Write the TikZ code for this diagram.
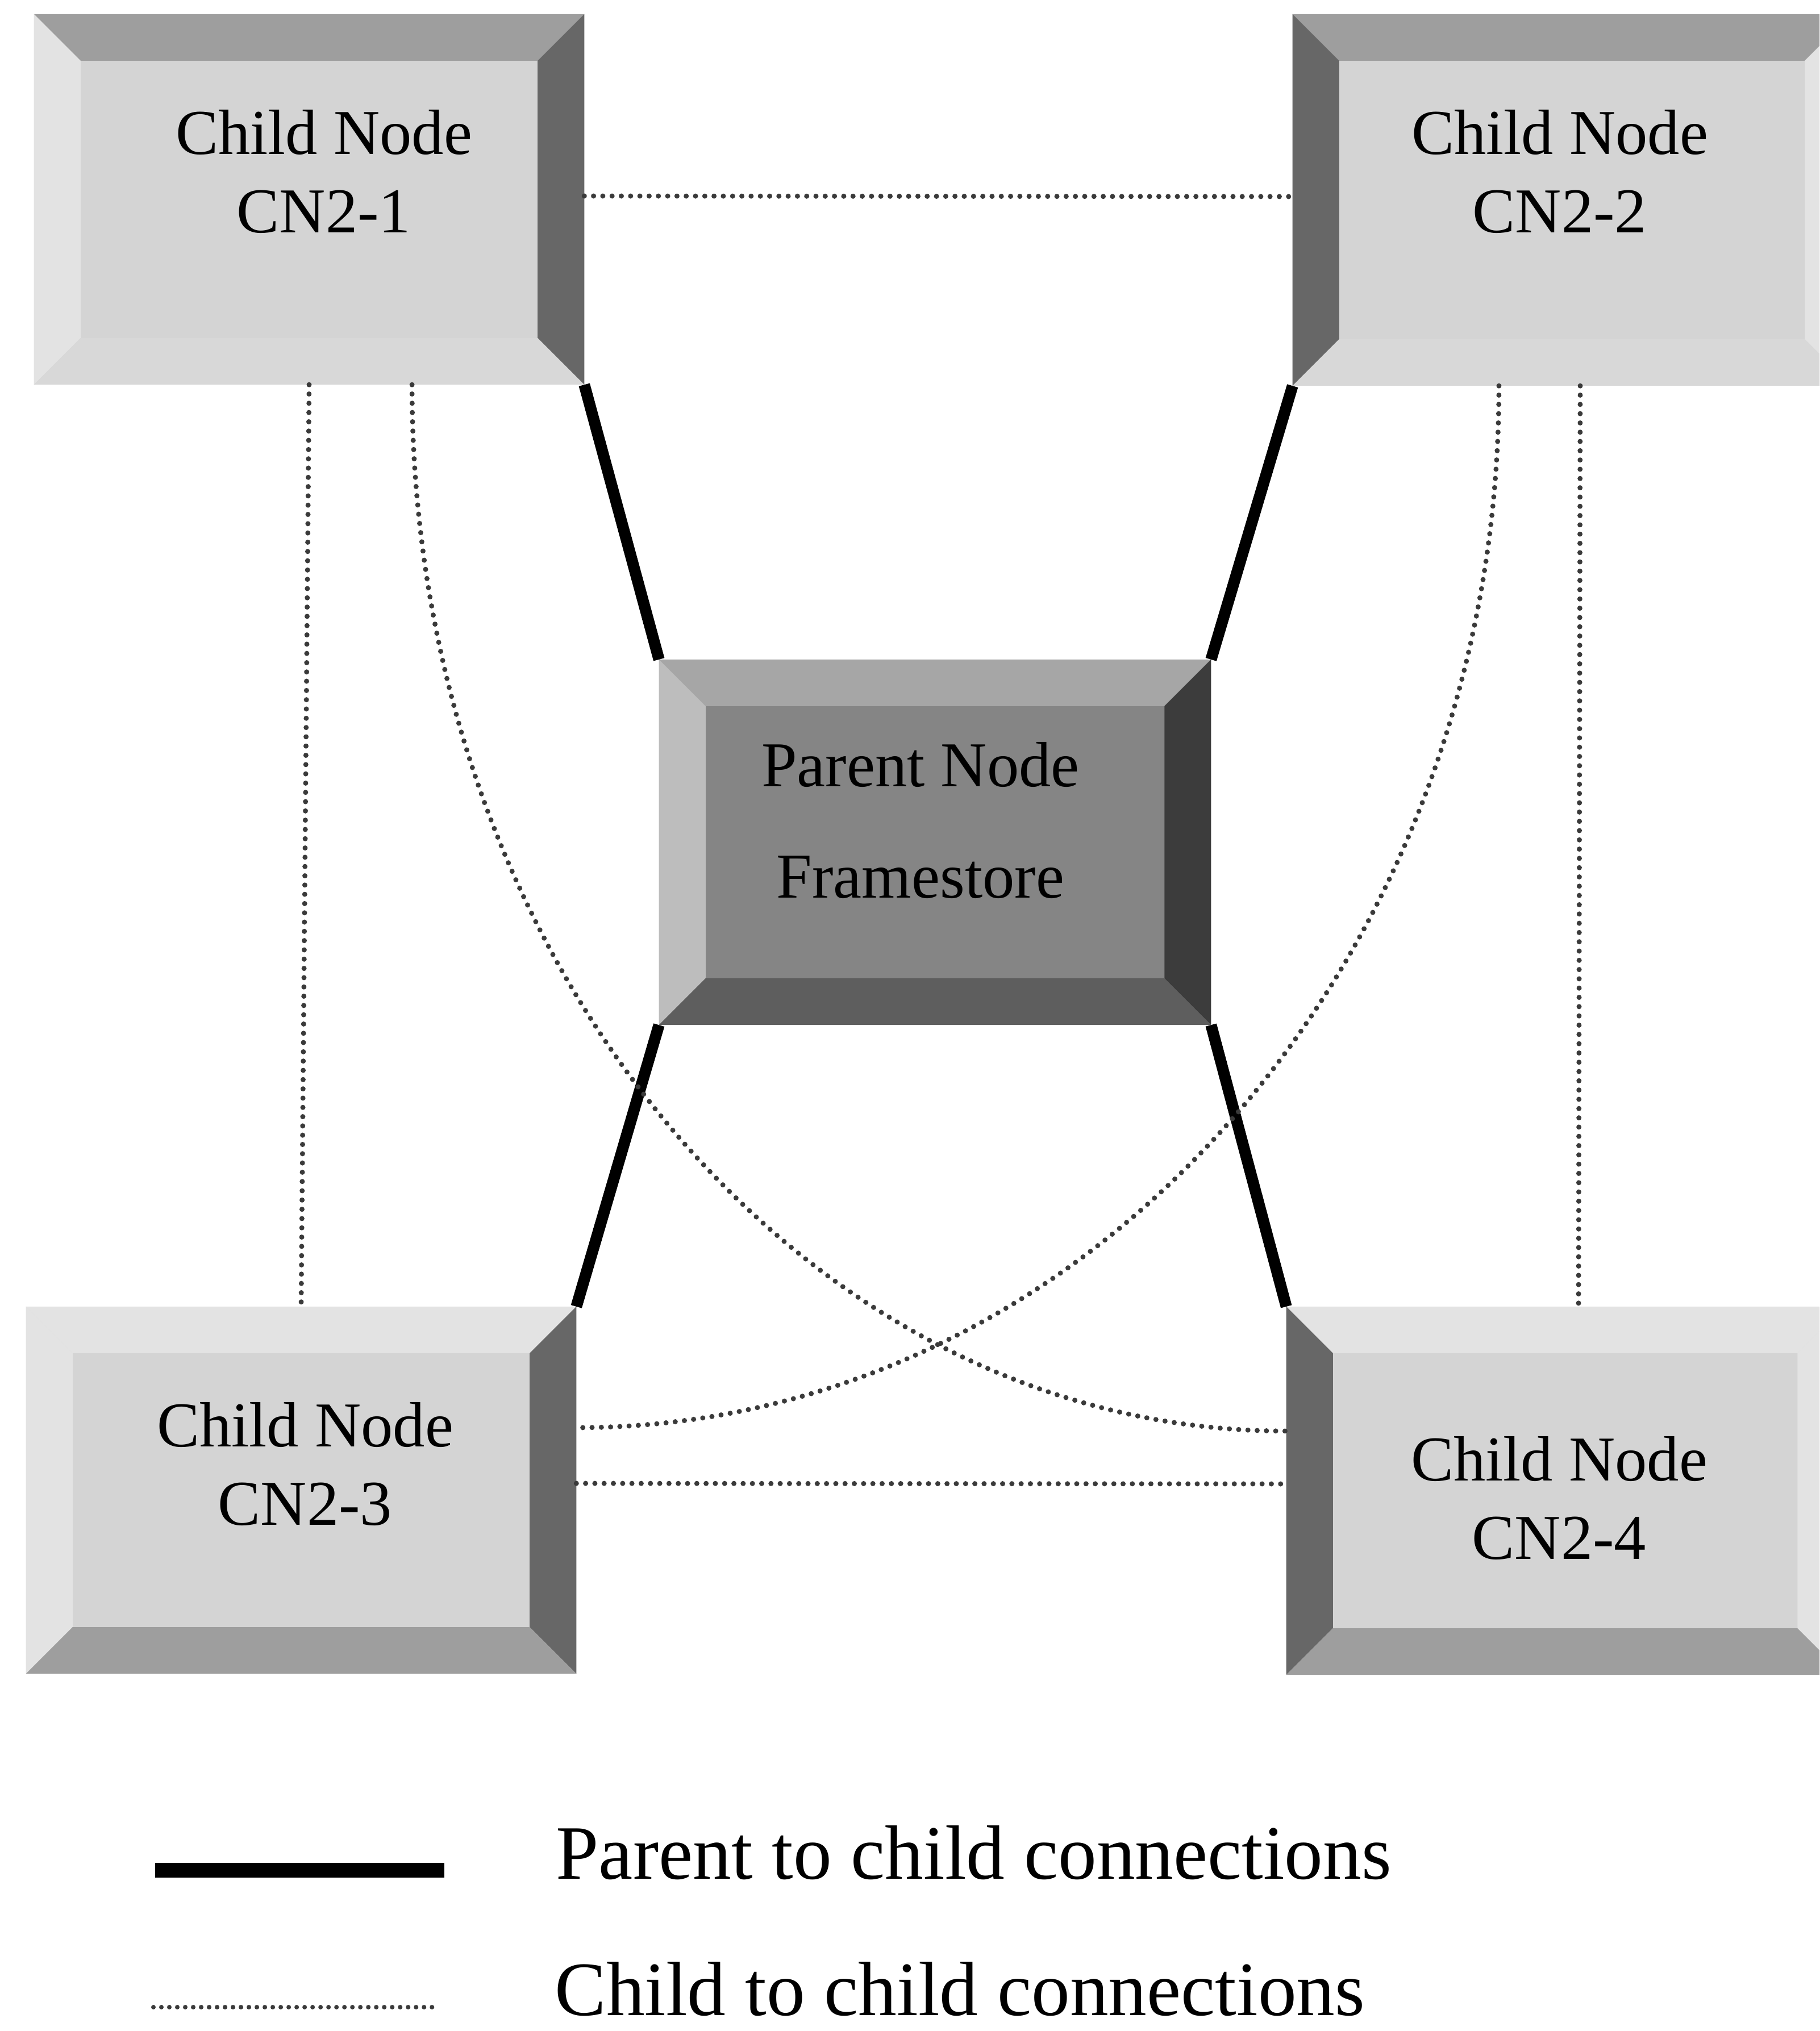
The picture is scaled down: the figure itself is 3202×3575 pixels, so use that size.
\documentclass[tikz,border=0pt]{standalone}
\usepackage{fontspec}
\setmainfont{Liberation Serif}
\usetikzlibrary{calc}

% bevel depth of the 3-D boxes
\def\bvl{0.82cm}

% bevelled box: #1 node name, #2 face, #3 top, #4 left, #5 right, #6 bottom
\newcommand\bevbox[6]{%
  \fill[#2] (#1.north west) rectangle (#1.south east);
  \fill[#3] (#1.north west) -- (#1.north east)
     -- ([shift={(-\bvl,-\bvl)}]#1.north east) -- ([shift={(\bvl,-\bvl)}]#1.north west) -- cycle;
  \fill[#4] (#1.north west) -- ([shift={(\bvl,-\bvl)}]#1.north west)
     -- ([shift={(\bvl,\bvl)}]#1.south west) -- (#1.south west) -- cycle;
  \fill[#5] (#1.north east) -- (#1.south east)
     -- ([shift={(-\bvl,\bvl)}]#1.south east) -- ([shift={(-\bvl,-\bvl)}]#1.north east) -- cycle;
  \fill[#6] (#1.south west) -- ([shift={(\bvl,\bvl)}]#1.south west)
     -- ([shift={(-\bvl,\bvl)}]#1.south east) -- (#1.south east) -- cycle;
}

\definecolor{facelt}{HTML}{D4D4D4}
\definecolor{bvlight}{HTML}{E3E3E3}
\definecolor{bvmid}{HTML}{9E9E9E}
\definecolor{bvdark}{HTML}{676767}
\definecolor{pface}{HTML}{858585}
\definecolor{ptop}{HTML}{A6A6A6}
\definecolor{pleft}{HTML}{BDBDBD}
\definecolor{pright}{HTML}{3C3C3C}
\definecolor{pbottom}{HTML}{5E5E5E}
\definecolor{dotgray}{HTML}{3A3A3A}

\tikzset{
  boxshape/.style={rectangle, inner sep=0pt, outer sep=0pt, draw=none},
  childtxt/.style={anchor=base, inner sep=0pt, font=\fontsize{32}{39.3}\selectfont},
  parenttxt/.style={anchor=base, inner sep=0pt, font=\fontsize{32}{55.9}\selectfont},
  legendtxt/.style={anchor=base west, inner sep=0pt, font=\fontsize{38.5}{46}\selectfont},
  parentlink/.style={line width=0.2cm, black, line cap=butt},
  childlink/.style={line width=0.09cm, dotgray, line cap=round, dash pattern=on 0pt off 0.163cm},
}

\begin{document}
\begin{tikzpicture}[x=0.01cm, y=-0.01cm]
  \useasboundingbox (0,0) rectangle (3202,3575);
  \clip (0,0) rectangle (3202,3575);
  \fill[white] (0,0) rectangle (3202,3575);

  % box outlines
  \node[boxshape, minimum width=9.68cm, minimum height=6.52cm] (cn1) at (544,351) {};
  \node[boxshape, minimum width=9.83cm, minimum height=6.54cm] (cn2) at (2766.5,352) {};
  \node[boxshape, minimum width=9.71cm, minimum height=6.43cm] (parent) at (1645.5,1482.5) {};
  \node[boxshape, minimum width=9.68cm, minimum height=6.46cm] (cn3) at (530,2623) {};
  \node[boxshape, minimum width=9.81cm, minimum height=6.48cm] (cn4) at (2754.5,2624) {};

  % bevelled faces
  \bevbox{cn1}{facelt}{bvmid}{bvlight}{bvdark}{bvlight!95!black}
  \bevbox{cn2}{facelt}{bvmid}{bvdark}{bvlight}{bvlight!95!black}
  \bevbox{parent}{pface}{ptop}{pleft}{pright}{pbottom}
  \bevbox{cn3}{facelt}{bvlight}{bvlight}{bvdark}{bvmid}
  \bevbox{cn4}{facelt}{bvlight}{bvdark}{bvlight}{bvmid}

  % labels
  \node[childtxt] (cn1txt) at (570,271) {\begin{tabular}[t]{@{}c@{}}Child Node\\CN2-1\end{tabular}};
  \node[childtxt] (cn2txt) at (2745,271) {\begin{tabular}[t]{@{}c@{}}Child Node\\CN2-2\end{tabular}};
  \node[parenttxt] (ptxt) at (1620,1384) {\begin{tabular}[t]{@{}c@{}}Parent Node\\Framestore\end{tabular}};
  \node[childtxt] (cn3txt) at (537,2546) {\begin{tabular}[t]{@{}c@{}}Child Node\\CN2-3\end{tabular}};
  \node[childtxt] (cn4txt) at (2744,2606) {\begin{tabular}[t]{@{}c@{}}Child Node\\CN2-4\end{tabular}};

  % parent to child links
  \draw[parentlink] (cn1.south east) -- (parent.north west);
  \draw[parentlink] (cn2.south west) -- (parent.north east);
  \draw[parentlink] (parent.south west) -- (cn3.north east);
  \draw[parentlink] (parent.south east) -- (cn4.north west);

  % child to child links
  \draw[childlink] ([yshift=0.06cm]cn1.east) -- ([yshift=0.06cm]cn2.west);
  \draw[childlink] (cn1.south) -- (cn3.north);
  \draw[childlink] ([xshift=0.145cm]cn2.south) -- ([xshift=0.235cm]cn4.north);
  \draw[childlink] ([yshift=0.12cm]cn3.east) -- ([yshift=0.12cm]cn4.west);
  \draw[childlink] ([xshift=1.81cm]cn1.south)
     .. controls +(0,1017) and +(-850,0) .. ([yshift=1.05cm]cn4.west);
  \draw[childlink] ([xshift=-1.285cm]cn2.south)
     .. controls +(0,1014) and +(897,0) .. ([yshift=1.10cm]cn3.east);

  % legend
  \coordinate (keyA1) at (273,3292);
  \coordinate (keyA2) at (782,3292);
  \coordinate (keyB1) at (270,3533);
  \coordinate (keyB2) at (774,3533);
  \draw[parentlink, line width=0.26cm] (keyA1) -- (keyA2);
  \draw[childlink, line width=0.08cm, dash pattern=on 0pt off 0.14cm] (keyB1) -- (keyB2);
  \node[legendtxt] (keyAtxt) at (978,3307) {Parent to child connections};
  \node[legendtxt] (keyBtxt) at (976,3547) {Child to child connections};
\end{tikzpicture}
\end{document}
